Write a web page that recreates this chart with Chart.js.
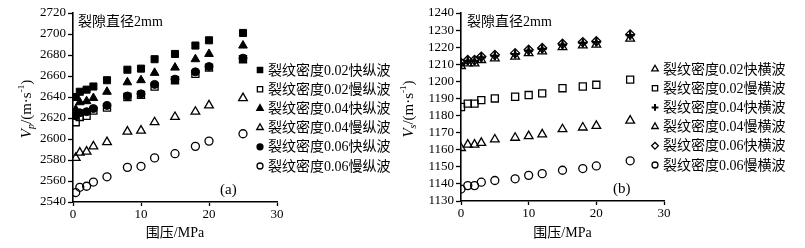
<!DOCTYPE html>
<html>
<head>
<meta charset="utf-8">
<script src="https://cdn.jsdelivr.net/npm/chart.js@4.4.1/dist/chart.umd.min.js"></script>
<style>
  body { margin: 0; background: #fff; }
  .panel { position: absolute; top: 0; }
</style>
</head>
<body>
<div class="panel" style="left:0"><canvas id="chartP" width="400" height="248"></canvas></div>
<div class="panel" style="left:400px"><canvas id="chartS" width="405" height="248"></canvas></div>
<script>
// confining pressure, MPa
let pressureP = [0.4, 1, 2, 3, 5, 8, 10, 12, 15, 18, 20, 25];
let pressureS = [0, 1, 2, 3, 5, 8, 10, 12, 15, 18, 20, 25];

// panel (a): P-wave velocity, m/s
let pFast02 = [2640, 2645, 2647, 2650, 2656, 2666, 2667, 2676, 2681, 2689, 2694, 2701];
let pSlow02 = [2616, 2621, 2622, 2627, 2630, 2640, 2642, 2650, 2656, 2662, 2668, 2676];
let pFast04 = [2628, 2635, 2636, 2639, 2645, 2654, 2656, 2663, 2668, 2676, 2681, 2689];
let pSlow04 = [2582, 2587, 2588, 2593, 2597, 2607, 2608, 2616, 2621, 2626, 2632, 2639];
let pFast06 = [2622, 2625, 2626, 2629, 2632, 2641, 2643, 2652, 2657, 2664, 2669, 2677];
let pSlow06 = [2549, 2554, 2555, 2559, 2564, 2573, 2574, 2582, 2586, 2593, 2598, 2605];

// panel (b): S-wave velocity, m/s
let sFast02 = [1209, 1210.5, 1210.5, 1212.5, 1213.5, 1214.5, 1216.5, 1217.5, 1220, 1221, 1221.5, 1225];
let sSlow02 = [1185, 1187, 1187, 1189, 1190, 1191, 1192, 1193, 1196, 1197, 1198, 1201];
let sFast04 = [1210.5, 1212, 1212, 1214, 1215, 1216, 1218, 1219, 1221.5, 1222.5, 1223, 1227];
let sSlow04 = [1161, 1163, 1163, 1164, 1166, 1167, 1168, 1169, 1172, 1173, 1174, 1177];
let sFast06 = [1211, 1212.5, 1212.5, 1214.5, 1215.5, 1216.5, 1218.5, 1219.5, 1222, 1223, 1223.5, 1227.5];
let sSlow06 = [1137, 1139, 1139, 1141, 1142, 1143, 1145, 1146, 1148, 1149, 1150.5, 1153.5];

let labelsP = ["裂纹密度0.02快纵波", "裂纹密度0.02慢纵波", "裂纹密度0.04快纵波",
               "裂纹密度0.04慢纵波", "裂纹密度0.06快纵波", "裂纹密度0.06慢纵波"];
let labelsS = ["裂纹密度0.02快横波", "裂纹密度0.02慢横波", "裂纹密度0.04快横波",
               "裂纹密度0.04慢横波", "裂纹密度0.06快横波", "裂纹密度0.06慢横波"];

let FONT = '"Liberation Serif", "Noto Sans CJK SC", serif';
let CLEAR = "rgba(255,255,255,0)";

function pts(xs, ys) {
  return ys.map((v, i) => ({ x: xs[i], y: v }));
}

function series(label, xs, ys, style, filled, radius, bw) {
  return {
    label: label,
    data: pts(xs, ys),
    showLine: false,
    pointStyle: style,
    pointRadius: radius,
    pointBorderWidth: bw,
    borderColor: "#000",
    backgroundColor: filled ? "#000" : CLEAR,
    pointBackgroundColor: filled ? "#000" : CLEAR,
    pointBorderColor: "#000",
  };
}

// legend, y title and in-plot notes
let decor = {
  id: "decor",
  afterDraw(chart, args, o) {
    let ctx = chart.ctx;
    let area = chart.chartArea;
    ctx.save();
    ctx.fillStyle = "#000";
    ctx.strokeStyle = "#000";
    ctx.textBaseline = "middle";

    // note + panel tag
    ctx.font = "14px " + FONT;
    ctx.textAlign = "left";
    ctx.fillText("裂隙直径2mm", area.left + o.noteDx, 22);
    ctx.font = "15px " + FONT;
    ctx.fillText(o.tag, o.tagX, o.tagY);

    // legend
    ctx.font = "14px " + FONT;
    chart.data.datasets.forEach((ds, i) => {
      let y = o.legY + i * 19.2;
      ctx.fillStyle = ds.pointBackgroundColor;
      ctx.lineWidth = ds.pointStyle === "cross" ? 2 : 1.3;
      Chart.helpers.drawPoint(ctx, {
        pointStyle: ds.pointStyle,
        rotation: 0,
        radius: ds.pointRadius * 0.75,
        borderWidth: ctx.lineWidth,
      }, o.legX, y);
      ctx.fillStyle = "#000";
      ctx.fillText(ds.label, o.legX + 8, y + 1);
    });

    // rotated y title: V_p/(m·s^-1)
    ctx.translate(o.titleX, 109);
    ctx.rotate(-Math.PI / 2);
    let parts = [
      { t: "V", f: "italic 15px " + FONT, dy: 0 },
      { t: o.sub, f: "italic 10px " + FONT, dy: 4 },
      { t: "/(m·s", f: "15px " + FONT, dy: 0 },
      { t: "-1", f: "9px " + FONT, dy: -5 },
      { t: ")", f: "15px " + FONT, dy: 0 },
    ];
    let total = 0;
    parts.forEach(p => { ctx.font = p.f; p.w = ctx.measureText(p.t).width; total += p.w; });
    let x = -total / 2;
    parts.forEach(p => {
      ctx.font = p.f;
      ctx.fillText(p.t, x, p.dy);
      x += p.w;
    });
    ctx.restore();
  },
};

function makeChart(id, datasets, yMin, yMax, yStep, yWidth, xHeight, padRight, decorOpts) {
  return new Chart(document.getElementById(id).getContext("2d"), {
    type: "scatter",
    data: { datasets: datasets },
    options: {
      responsive: false,
      animation: false,
      devicePixelRatio: 1,
      layout: { padding: { left: 0, right: padRight, top: 13, bottom: 0 } },
      plugins: { legend: { display: false }, tooltip: { enabled: false }, decor: decorOpts },
      scales: {
        x: {
          type: "linear",
          min: 0,
          max: 30,
          ticks: { stepSize: 10, color: "#000", padding: 1, font: { family: FONT, size: 13 } },
          grid: { drawOnChartArea: false, color: "#000", tickLength: 4, tickWidth: 1.3 },
          border: { color: "#000", width: 1.6 },
          title: { display: true, text: "围压/MPa", color: "#000", padding: { top: 0, bottom: 6 },
                   font: { family: FONT, size: 14 } },
          afterFit(scale) { scale.height = xHeight; },
        },
        y: {
          min: yMin,
          max: yMax,
          ticks: {
            stepSize: yStep,
            autoSkip: false,
            color: "#000",
            padding: 2,
            font: { family: FONT, size: 13 },
            callback: v => String(v),
          },
          grid: { drawOnChartArea: false, color: "#000", tickLength: 5, tickWidth: 1.3 },
          border: { color: "#000", width: 1.6 },
          afterFit(scale) { scale.width = yWidth; },
        },
      },
    },
    plugins: [decor],
  });
}

let chartP = makeChart("chartP", [
  series(labelsP[0], pressureP, pFast02, "rect", true, 5, 1),
  series(labelsP[1], pressureP, pSlow02, "rect", false, 5, 1.3),
  series(labelsP[2], pressureP, pFast04, "triangle", true, 5, 1),
  series(labelsP[3], pressureP, pSlow04, "triangle", false, 5, 1.3),
  series(labelsP[4], pressureP, pFast06, "circle", true, 4, 1),
  series(labelsP[5], pressureP, pSlow06, "circle", false, 4, 1.3),
], 2540, 2720, 20, 73, 46, 123,
  { noteDx: 5, tag: "(a)", tagX: 220, tagY: 190, legX: 260, legY: 70, titleX: 27, sub: "p" });

let chartS = makeChart("chartS", [
  series(labelsS[0], pressureS, sFast02, "triangle", false, 5, 1.3),
  series(labelsS[1], pressureS, sSlow02, "rect", false, 5, 1.3),
  series(labelsS[2], pressureS, sFast04, "cross", false, 4.5, 2.2),
  series(labelsS[3], pressureS, sSlow04, "triangle", false, 5, 1.3),
  series(labelsS[4], pressureS, sFast06, "rectRot", false, 4.5, 1.3),
  series(labelsS[5], pressureS, sSlow06, "circle", false, 4, 1.3),
], 1130, 1240, 10, 61, 47, 141,
  { noteDx: 6, tag: "(b)", tagX: 213, tagY: 189, legX: 255, legY: 69, titleX: 9, sub: "s" });
</script>
</body>
</html>
